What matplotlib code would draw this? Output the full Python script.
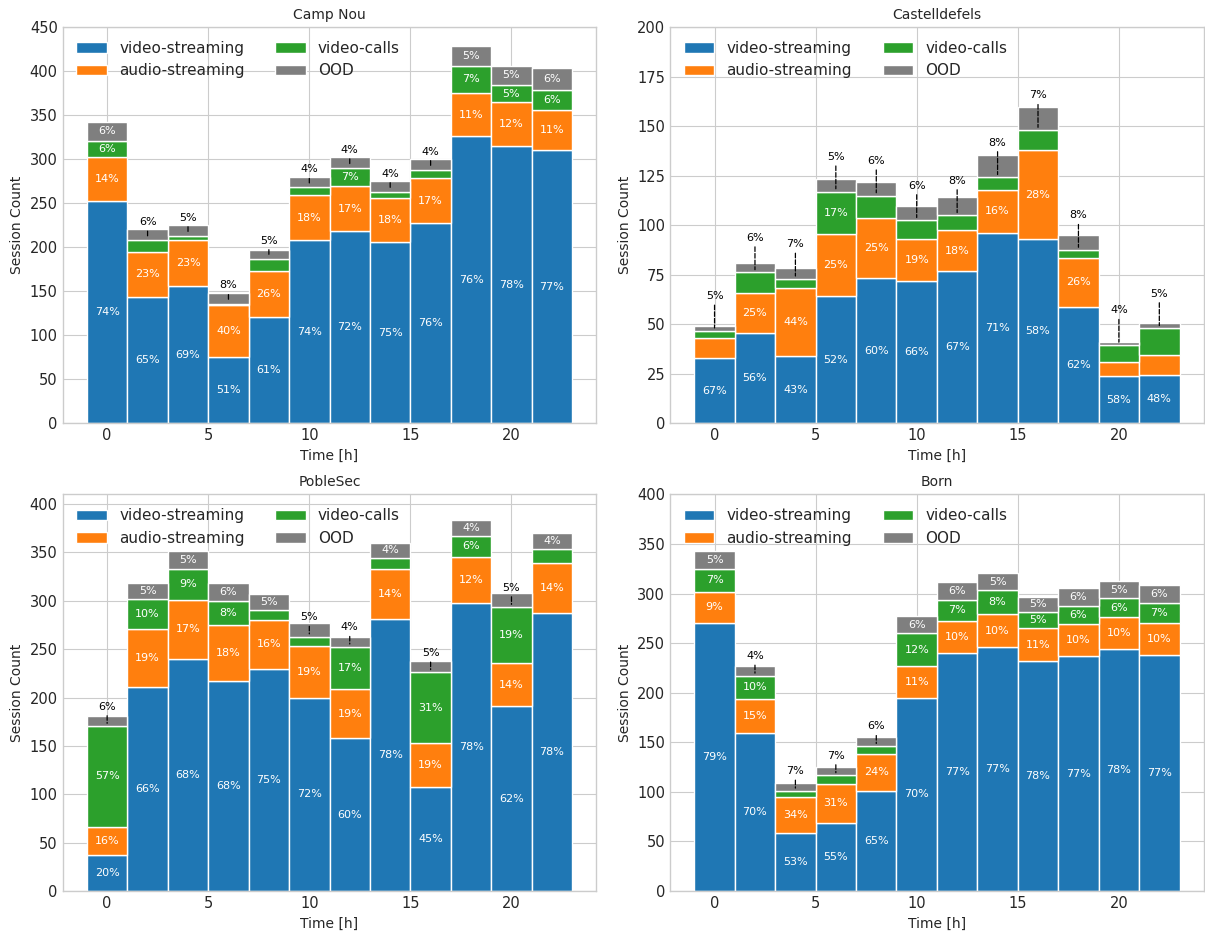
import matplotlib.pyplot as plt
import numpy as np

# hourly bins (2h wide), session counts per traffic class
hours = np.arange(0, 24, 2)
classes = ['video-streaming', 'audio-streaming', 'video-calls', 'OOD']
colors = ['#1f77b4', '#ff7f0e', '#2ca02c', '#7f7f7f']

campnou_video = [253, 144, 156, 76, 121, 208, 218, 206, 227, 326, 315, 310]
campnou_audio = [49, 51, 52, 59, 52, 51, 51, 50, 52, 49, 50, 46]
campnou_calls = [19, 13, 5, 1, 14, 9, 21, 7, 9, 31, 19, 23]
campnou_ood = [21, 13, 12, 12, 10, 12, 13, 12, 12, 23, 22, 24]

castell_video = [33, 45.5, 34, 64.5, 73.5, 72, 77, 96, 93, 59, 24, 24.3]
castell_audio = [10, 20.5, 34.5, 31, 30, 21, 20.5, 22, 45, 24.7, 6.8, 10.5]
castell_calls = [3.8, 10.2, 4.5, 21.5, 11.5, 9.5, 7.5, 6.2, 10, 3.8, 8.8, 13.2]
castell_ood = [2.5, 5, 5.5, 6.5, 7, 7, 9.3, 11, 11.5, 7.6, 1.7, 2.5]

poblesec_video = [37, 211, 240, 217, 230, 200, 158, 281, 107.5, 298, 191, 287.5]
poblesec_audio = [29.5, 60, 61, 58, 50, 53.5, 50.5, 52, 45.5, 47.5, 44.5, 52]
poblesec_calls = [104, 31, 32, 25, 11, 9.5, 44, 11.5, 73, 22, 58, 14.5]
poblesec_ood = [10.5, 16.5, 18.5, 18.5, 16, 14.5, 10.5, 15.5, 11.5, 16, 14.5, 16]

born_video = [270, 159, 58, 69, 101, 195, 240, 246, 231.5, 237, 244, 238]
born_audio = [32, 35, 37, 39, 37.5, 31.5, 32, 33, 33.5, 32, 32, 32]
born_calls = [22.5, 23, 6, 8.5, 7.5, 33.5, 22, 24.5, 16, 18.5, 19.5, 21]
born_ood = [18.5, 10, 7.6, 8.5, 9, 17.5, 18, 17, 16, 18.5, 17, 18]

MIN_H = 15  # smallest segment that gets its label inside


def plot_location(ax, title, series, ymax, ystep):
    series = np.array(series, dtype=float)
    total = series.sum(axis=0)
    bottom = np.zeros(len(hours))
    for vals, name, c in zip(series, classes, colors):
        ax.bar(hours, vals, width=2, bottom=bottom, color=c, edgecolor='white',
               linewidth=1, label=name, zorder=2)
        for x, b, v, t in zip(hours, bottom, vals, total):
            pct = f'{100 * v / t:.0f}%'
            if v >= MIN_H:
                ax.text(x, b + v / 2, pct, ha='center', va='center',
                        color='white', fontsize=8, zorder=4)
            elif name == 'OOD':
                ax.annotate(pct, xy=(x, b), xytext=(x, b + 15), ha='center',
                            va='bottom', fontsize=8, color='black', zorder=4,
                            arrowprops=dict(arrowstyle='-', linestyle='--',
                                            color='black', lw=0.9,
                                            shrinkA=1, shrinkB=2))
        bottom += vals
    ax.set_ylim(0, ymax)
    ax.set_yticks(np.arange(0, ymax + 1, ystep))
    ax.set_xticks([0, 5, 10, 15, 20])
    ax.set_title(title, fontsize=10)
    ax.set_xlabel('Time [h]', fontsize=10)
    ax.set_ylabel('Session Count', fontsize=10)
    ax.tick_params(labelsize=10.5)
    ax.legend(loc='upper left', ncol=2, frameon=False, fontsize=11)


plt.style.use('seaborn-v0_8-whitegrid')
plt.rcParams['font.family'] = 'DejaVu Sans'
fig, axes = plt.subplots(2, 2, figsize=(12.05, 9.31), dpi=100)
plt.subplots_adjust(left=0.052, right=0.999, bottom=0.043, top=0.971,
                    wspace=0.138, hspace=0.179)

plot_location(axes[0, 0], 'Camp Nou',
              [campnou_video, campnou_audio, campnou_calls, campnou_ood], 450, 50)
plot_location(axes[0, 1], 'Castelldefels',
              [castell_video, castell_audio, castell_calls, castell_ood], 200, 25)
plot_location(axes[1, 0], 'PobleSec',
              [poblesec_video, poblesec_audio, poblesec_calls, poblesec_ood], 410, 50)
plot_location(axes[1, 1], 'Born',
              [born_video, born_audio, born_calls, born_ood], 400, 50)

plt.savefig('out.png', dpi=100)
